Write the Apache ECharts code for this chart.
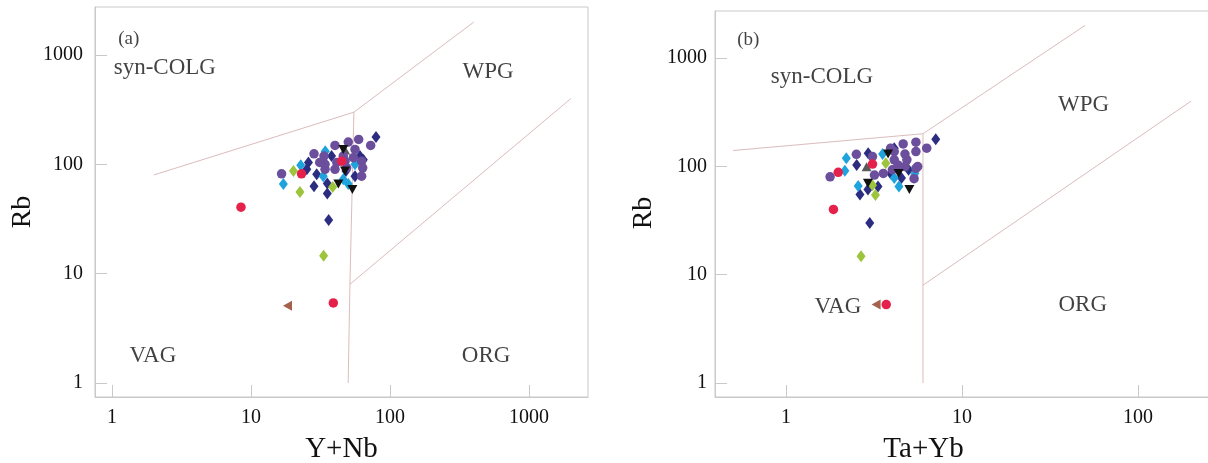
<!DOCTYPE html>
<html>
<head>
<meta charset="utf-8">
<script src="https://cdn.jsdelivr.net/npm/echarts@6/dist/echarts.min.js"></script>
<style>
html,body{margin:0;padding:0;background:#fff;}
#chart{width:1208px;height:463px;}
</style>
</head>
<body>
<div id="chart"></div>
<script>
// ---------------- DATA ----------------
// Panel (a): [Y+Nb, Rb]
const purpleA = [[16.6,82],[28.4,125],[33.5,119],[40.2,149],[50.1,160],[59.5,169],[72.6,149],[56,137],[46.1,119],[34.1,100],[41.4,104],[47.5,107],[54.5,115],[62.5,107],[63.6,93],[62.5,78],[40.2,90],[34.1,90],[31.2,104],[48.8,93]];
const navyA   = [[79.3,178],[25.9,104],[29.7,81],[28.4,63],[35.4,67],[35.4,54],[36.2,31],[56,78],[64.3,110],[48.2,87],[38,119],[25.2,90],[60.8,119]];
const blueA   = [[17.1,66],[22.8,98],[33.1,78],[34.2,132],[46.1,73],[50.1,66],[56,100]];
const greenA  = [[20.2,87],[22.5,56],[38.7,62],[33.3,14.6]];
const redA    = [[8.47,40.6],[23.1,82],[39.1,5.4],[44.9,107]];
const blackA  = [[42.5,66],[53.6,59],[47.5,87],[46.1,137]];
const brownA  = [[18.3,5.1]];
const greyA   = [[47.5,135]];

// Panel (b): [Ta+Yb, Rb]
const purpleB = [[1.78,80],[2.51,129],[3.10,123],[3.93,147],[4.63,161],[5.47,167],[6.30,147],[5.47,137],[4.74,130],[4.12,115],[4.86,115],[5.60,99.5],[5.34,77],[4.74,99.5],[4.02,93],[3.57,86],[3.18,83],[4.32,103],[5.47,96],[4.12,137]];
const navyB   = [[7.09,178],[2.52,103],[2.93,132],[2.63,55],[2.92,61],[3.33,65],[2.99,30],[3.93,86],[4.53,78],[4.97,93],[4.12,147]];
const blueB   = [[2.2,119],[2.16,91],[2.57,66],[3.54,130],[4.12,78],[4.38,65],[5.39,86]];
const greenB  = [[3.69,107],[3.22,54.5],[3.10,67],[2.67,14.8]];
const redB    = [[1.98,88],[1.86,40],[3.10,105],[3.71,5.3]];
const blackB  = [[2.92,70],[4.36,86],[5.02,61],[3.80,130]];
const brownB  = [[3.25,5.3]];
const greyB   = [[2.87,99],[3.9,148]];

// Discrimination boundaries (Pearce et al. 1984)
const boundA = [
  [[2,80],[55,300]],
  [[55,300],[400,2000]],
  [[55,300],[51.5,8],[50,1]],
  [[51.5,8],[2000,400]]
];
const boundB = [
  [[0.5,140],[6,200]],
  [[6,200],[50,2000]],
  [[6,200],[6,1]],
  [[6,8],[200,400]]
];

// Field labels (anchor in data coordinates)
const fieldsA = [['syn-COLG',2.4,760],['WPG',507,700],['VAG',1.97,1.75],['ORG',491,1.75]];
const fieldsB = [['syn-COLG',1.6,669],['WPG',49,370],['VAG',1.97,5.05],['ORG',48.5,5.3]];
const panelTags = [['(a)',1.32,1400],['(b)',0.61,1470]];

const xNameA = 'Y+Nb', xNameB = 'Ta+Yb', yName = 'Rb';
const tickLabels = ['1','10','100','1000'];

// ---------------- CHART ----------------
const FONT = 'Liberation Serif';
const TXT = '#111111';
const AXC = '#c9c9c9';
const LINEC = '#dcbcbc';

function powLabel(v){
  const l = Math.log10(v);
  if (Math.abs(l - Math.round(l)) < 1e-6) {
    const s = String(Math.round(v));
    return tickLabels.indexOf(s) >= 0 ? s : '';
  }
  return '';
}

function xAxisCfg(idx, name, min, max, shift){
  return {
    type:'log', logBase:10, gridIndex:idx, min:min, max:max,
    name:name, nameLocation:'middle', nameGap:38,
    nameTextStyle:{fontFamily:FONT,fontSize:29,color:TXT,padding:[0,shift,0,0]},
    axisLine:{show:true,lineStyle:{color:AXC,width:1}},
    axisTick:{show:true,inside:true,length:12,lineStyle:{color:AXC}},
    axisLabel:{formatter:powLabel,fontFamily:FONT,fontSize:20,color:TXT,margin:11,showMinLabel:false,showMaxLabel:false},
    splitLine:{show:false}, minorTick:{show:false}
  };
}
function yAxisCfg(idx, min, max, gap, margin, pad){
  return {
    type:'log', logBase:10, gridIndex:idx, min:min, max:max,
    name:yName, nameLocation:'middle', nameGap:gap, nameRotate:90,
    nameTextStyle:{fontFamily:FONT,fontSize:28,color:TXT,padding:[0,pad,0,0]},
    axisLine:{show:true,lineStyle:{color:AXC,width:1}},
    axisTick:{show:true,inside:true,length:12,lineStyle:{color:AXC}},
    axisLabel:{formatter:powLabel,fontFamily:FONT,fontSize:20,color:TXT,margin:margin,showMinLabel:false,showMaxLabel:false},
    splitLine:{show:false}, minorTick:{show:false}
  };
}

const series = [];
function addBounds(list, idx){
  list.forEach(seg => series.push({
    type:'line', xAxisIndex:idx, yAxisIndex:idx, data:seg, symbol:'none', silent:true,
    lineStyle:{color:LINEC,width:1}, z:1, animation:false
  }));
}
addBounds(boundA,0); addBounds(boundB,1);

const styles = {
  purple:{symbol:'circle',size:9.5,color:'#6b4f9c',rot:0},
  navy:{symbol:'diamond',size:[9,12],color:'#2c2d80',rot:0},
  blue:{symbol:'diamond',size:[9,12],color:'#1ea3dc',rot:0},
  green:{symbol:'diamond',size:[9,12],color:'#9cc43c',rot:0},
  red:{symbol:'circle',size:9.5,color:'#e5214b',rot:0},
  black:{symbol:'triangle',size:[10,9],color:'#111111',rot:180},
  brown:{symbol:'triangle',size:[10,9],color:'#a4614c',rot:90},
  grey:{symbol:'triangle',size:[10,9],color:'#5a5a5a',rot:0}
};
function addSet(key, data, idx){
  const s = styles[key];
  series.push({
    type:'scatter', xAxisIndex:idx, yAxisIndex:idx, data:data,
    symbol:s.symbol, symbolSize:s.size, symbolRotate:s.rot,
    itemStyle:{color:s.color,opacity:1}, z:3, animation:false
  });
}
[['grey',greyA],['navy',navyA],['blue',blueA],['green',greenA],['purple',purpleA],['black',blackA],['red',redA],['brown',brownA]].forEach(p=>addSet(p[0],p[1],0));
[['grey',greyB],['navy',navyB],['blue',blueB],['green',greenB],['purple',purpleB],['black',blackB],['red',redB],['brown',brownB]].forEach(p=>addSet(p[0],p[1],1));

function addText(list, idx, size){
  series.push({
    type:'scatter', xAxisIndex:idx, yAxisIndex:idx, silent:true, animation:false,
    symbolSize:1, itemStyle:{color:'rgba(0,0,0,0)'}, z:2,
    data:list.map(f=>({name:f[0],value:[f[1],f[2]]})),
    label:{show:true,position:'inside',formatter:'{b}',fontFamily:FONT,fontSize:size,color:TXT}
  });
}
addText(fieldsA,0,23); addText(fieldsB,1,23);
addText([panelTags[0]],0,19); addText([panelTags[1]],1,19);

const option = {
  backgroundColor:'#ffffff',
  animation:false,
  grid:[
    {left:95, top:7, width:493, height:390, show:true, borderColor:AXC, borderWidth:1, containLabel:false, outerBoundsMode:'none'},
    {left:715, top:11, width:505, height:386, show:true, borderColor:AXC, borderWidth:1, containLabel:false, outerBoundsMode:'none'}
  ],
  xAxis:[ xAxisCfg(0,xNameA,0.755,2656,0), xAxisCfg(1,xNameB,0.395,292,88) ],
  yAxis:[ yAxisCfg(0,0.745,2750,58,12,20), yAxisCfg(1,0.743,2716,57,8,18) ],
  series:series
};

const chart = echarts.init(document.getElementById('chart'), null, {renderer:'canvas'});
chart.setOption(option);
</script>
</body>
</html>
